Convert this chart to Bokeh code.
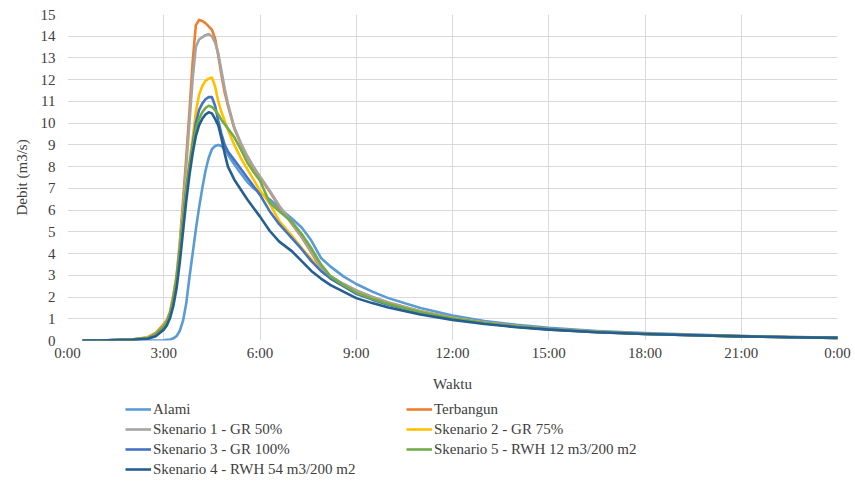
from bokeh.plotting import figure
from bokeh.models import FixedTicker, Legend, LegendItem, Range1d
from bokeh.layouts import column
from bokeh.embed import file_html
from bokeh.resources import INLINE

# time in hours
hours = [0.5, 1.0, 1.5, 2.0, 2.5, 2.75,
         3.0, 3.1, 3.2, 3.3, 3.4, 3.5, 3.6, 3.7, 3.8, 3.9, 4.0,
         4.1, 4.2, 4.3, 4.4, 4.5, 4.6, 4.7, 4.8, 4.9, 5.0,
         5.2, 5.4, 5.6, 5.8, 6.0,
         6.3, 6.6, 7.0, 7.3, 7.6, 7.9, 8.2, 8.6, 9.0, 9.5, 10.0,
         11.0, 12.0, 13.0, 14.0, 15.0,
         16.5, 18.0, 19.5, 21.0, 22.5, 24.0]

alami = [0, 0, 0, 0, 0, 0,
         0.01, 0.03, 0.05, 0.1, 0.2, 0.45, 0.9, 1.7, 2.9, 4.0, 5.1,
         6.1, 7.0, 7.8, 8.4, 8.8, 8.95, 9.0, 8.95, 8.8, 8.55,
         8.1, 7.7, 7.3, 7.0, 6.8,
         6.5, 6.1, 5.6, 5.2, 4.6, 3.8, 3.4, 2.95, 2.6, 2.25, 1.95,
         1.5, 1.15, 0.9, 0.72, 0.58,
         0.44, 0.34, 0.27, 0.21, 0.16, 0.12]

terbangun = [0, 0, 0.02, 0.05, 0.15, 0.35,
             0.75, 0.95, 1.35, 2.1, 3.0, 4.5, 6.4, 8.4, 10.5, 12.8, 14.5,
             14.75, 14.7, 14.6, 14.45, 14.3, 13.9, 13.1, 12.2, 11.4, 10.8,
             9.75, 9.05, 8.45, 7.95, 7.5,
             6.85, 6.15, 5.35, 4.75, 4.05, 3.3, 2.95, 2.6, 2.3, 2.0, 1.75,
             1.35, 1.05, 0.83, 0.66, 0.53,
             0.4, 0.31, 0.25, 0.2, 0.16, 0.13]

skenario1 = [0, 0, 0.02, 0.04, 0.12, 0.3,
             0.7, 0.9, 1.3, 2.0, 2.9, 4.3, 6.1, 8.0, 10.0, 12.0, 13.5,
             13.85, 13.95, 14.05, 14.1, 14.0, 13.7, 13.2, 12.4, 11.6, 10.9,
             9.8, 9.1, 8.5, 8.0, 7.55,
             6.9, 6.2, 5.4, 4.8, 4.1, 3.35, 2.95, 2.6, 2.3, 2.0, 1.75,
             1.35, 1.05, 0.83, 0.66, 0.53,
             0.4, 0.31, 0.25, 0.2, 0.16, 0.13]

skenario2 = [0, 0, 0.02, 0.04, 0.12, 0.3,
             0.7, 0.9, 1.3, 2.0, 2.9, 4.2, 5.8, 7.2, 8.2, 9.3, 10.5,
             11.3, 11.7, 11.95, 12.05, 12.1, 11.7, 11.0, 10.5, 10.1, 9.7,
             9.0, 8.4, 7.9, 7.4, 6.9,
             6.3, 5.5, 4.8, 4.25, 3.75, 3.2, 2.85, 2.5, 2.2, 1.92, 1.68,
             1.3, 1.02, 0.8, 0.64, 0.52,
             0.39, 0.3, 0.24, 0.19, 0.15, 0.12]

skenario3 = [0, 0, 0.02, 0.04, 0.1, 0.28,
             0.65, 0.85, 1.25, 1.9, 2.8, 4.1, 5.6, 7.0, 8.0, 9.0, 10.0,
             10.6, 10.9, 11.1, 11.2, 11.2, 10.8, 10.1, 9.5, 9.0, 8.7,
             8.3, 7.9, 7.5, 7.1, 6.7,
             5.95, 5.35, 4.7, 4.2, 3.65, 3.2, 2.85, 2.5, 2.15, 1.88, 1.65,
             1.28, 1.0, 0.79, 0.63, 0.51,
             0.38, 0.3, 0.24, 0.19, 0.15, 0.12]

skenario5 = [0, 0, 0.02, 0.04, 0.1, 0.28,
             0.65, 0.85, 1.25, 1.9, 2.8, 4.1, 5.5, 6.9, 7.9, 8.9, 9.7,
             10.2, 10.5, 10.7, 10.8, 10.75, 10.6, 10.4, 10.15, 9.95, 9.75,
             9.35, 8.8, 8.2, 7.75, 7.35,
             6.35, 5.95, 5.45, 4.9, 4.25, 3.5, 2.95, 2.55, 2.2, 1.92, 1.68,
             1.3, 1.01, 0.8, 0.64, 0.52,
             0.39, 0.3, 0.24, 0.19, 0.15, 0.12]

skenario4 = [0, 0, 0.02, 0.03, 0.08, 0.2,
             0.5, 0.7, 1.05, 1.6, 2.4, 3.6, 5.0, 6.4, 7.6, 8.6, 9.4,
             9.9, 10.2, 10.4, 10.5, 10.45, 10.2, 9.9, 9.3, 8.6, 8.0,
             7.4, 6.95, 6.5, 6.1, 5.7,
             5.05, 4.55, 4.1, 3.65, 3.2, 2.85, 2.55, 2.25, 1.95, 1.72, 1.52,
             1.2, 0.95, 0.76, 0.61, 0.5,
             0.38, 0.3, 0.24, 0.19, 0.15, 0.12]

series_names = ["Alami", "Terbangun", "Skenario 1 - GR 50%", "Skenario 2 - GR 75%",
                "Skenario 3 - GR 100%", "Skenario 5 - RWH 12 m3/200 m2",
                "Skenario 4 - RWH 54 m3/200 m2"]
series_values = [alami, terbangun, skenario1, skenario2, skenario3, skenario5, skenario4]
series_colors = ["#5B9BD5", "#ED7D31", "#A5A5A5", "#FFC000", "#4472C4", "#70AD47", "#255E91"]
# legend layout: column-major order (left column, then right column)
legend_order = [0, 2, 4, 6, 1, 3, 5]

x_ticks = [0, 3, 6, 9, 12, 15, 18, 21, 24]
x_tick_labels = ["0:00", "3:00", "6:00", "9:00", "12:00", "15:00", "18:00", "21:00", "0:00"]
y_ticks = list(range(0, 16))

FONT = "Liberation Serif"
TXT = "#404040"
GRID = "#d9d9d9"
LW = 2.6

p = figure(frame_width=770, frame_height=326,
           min_border_left=67, min_border_right=16, min_border_top=14, min_border_bottom=54,
           x_range=Range1d(0, 24), y_range=Range1d(0, 15),
           output_backend="svg", toolbar_location=None)
p.outline_line_color = None
p.background_fill_color = "white"
p.border_fill_color = "white"

for name, vals, col in zip(series_names, series_values, series_colors):
    p.line(hours, vals, line_color=col, line_width=LW, line_join="round", line_cap="round")

# axes
p.xaxis.ticker = FixedTicker(ticks=x_ticks)
p.xaxis.major_label_overrides = {t: l for t, l in zip(x_ticks, x_tick_labels)}
p.yaxis.ticker = FixedTicker(ticks=y_ticks)
for ax in (p.xaxis, p.yaxis):
    ax.axis_line_color = None
    ax.major_tick_line_color = None
    ax.minor_tick_line_color = None
    ax.major_tick_out = 0
    ax.major_tick_in = 0
    ax.minor_tick_out = 0
    ax.minor_tick_in = 0
    ax.major_label_text_font = FONT
    ax.major_label_text_font_size = "15px"
    ax.major_label_text_color = TXT
    ax.axis_label_text_font = FONT
    ax.axis_label_text_font_size = "15px"
    ax.axis_label_text_font_style = "normal"
    ax.axis_label_text_color = TXT
p.xaxis.axis_label = "Waktu"
p.yaxis.axis_label = "Debit (m3/s)"
p.xaxis.major_label_standoff = 4
p.yaxis.major_label_standoff = 12
p.xaxis.axis_label_standoff = 12
p.yaxis.axis_label_standoff = 8

p.xgrid.ticker = FixedTicker(ticks=x_ticks)
p.ygrid.ticker = FixedTicker(ticks=y_ticks)
p.xgrid.grid_line_color = GRID
p.ygrid.grid_line_color = GRID
p.xgrid.grid_line_width = 1
p.ygrid.grid_line_width = 1

# legend panel (separate figure below the chart)
lg = figure(width=853, height=95, min_border=0, x_axis_type=None, y_axis_type=None,
            x_range=Range1d(0, 1), y_range=Range1d(0, 1),
            output_backend="svg", toolbar_location=None)
lg.outline_line_color = None
lg.xgrid.visible = False
lg.ygrid.visible = False
legend_renderers = []
for name, col in zip(series_names, series_colors):
    r = lg.line([-5, -4], [-5, -5], line_color=col, line_width=LW)
    legend_renderers.append(r)
items = [LegendItem(label=series_names[i], renderers=[legend_renderers[i]]) for i in legend_order]
legend = Legend(items=items, ncols=2, location=(58, 11),
                label_text_font=FONT, label_text_font_size="15px", label_text_color=TXT,
                glyph_width=26, glyph_height=18, label_height=18, label_width=251,
                label_standoff=2, spacing=2, padding=4, margin=0,
                border_line_color=None, background_fill_alpha=0)
lg.add_layout(legend)

layout = column(p, lg, spacing=0)
open("out.html", "w").write(file_html(layout, INLINE))
